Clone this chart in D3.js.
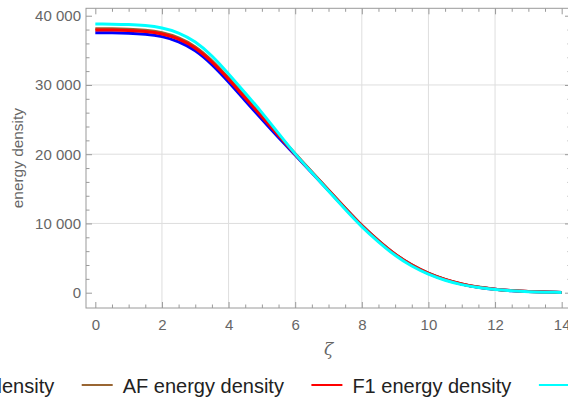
<!DOCTYPE html>
<html>
<head>
<meta charset="utf-8">
<script src="https://cdn.jsdelivr.net/npm/d3@7"></script>
<style>
  html, body { margin: 0; padding: 0; background: #fff; overflow: hidden; }
  svg { display: block; }
  .ticklab { font-family: 'Liberation Sans', Arial, sans-serif; font-size: 15px; fill: #666; }
</style>
</head>
<body>
<svg id="chart" width="568" height="400"></svg>
<script>
// ---- data ----
const zeta = [0,0.5,1,1.5,2,2.5,3,3.5,4,4.5,5,5.5,6,6.5,7,7.5,8,8.5,9,9.5,10,10.5,11,11.5,12,12.5,13,13.5,14];
const blueVals  = [37550,37530,37470,37320,36980,36230,34930,32930,30430,27730,25030,22400,19880,17330,14770,12180,9680,7480,5530,3990,2790,1890,1240,795,495,298,168,88,40];
const brownVals = [38130,38110,38050,37900,37550,36800,35500,33500,31000,28300,25560,22800,20050,17420,14820,12220,9720,7520,5570,4020,2820,1920,1260,810,510,305,175,90,40];
const redVals   = [37940,37920,37860,37710,37360,36610,35310,33310,30810,28110,25410,22700,20000,17400,14800,12200,9700,7500,5550,4000,2800,1900,1250,800,500,300,170,90,40];
const cyanVals  = [38800,38780,38720,38570,38230,37500,36200,34180,31600,28850,26000,23000,20050,17350,14700,12050,9550,7350,5400,3850,2680,1800,1170,740,450,270,150,80,30];
const seriesNames = ["F2 energy density","AF energy density","F1 energy density","F3 energy density"];
const seriesColors = ["#0000ff","#996633","#ff0000","#00ffff"];
const xTickVals = [0,2,4,6,8,10,12,14];
const yTickVals = [0,10000,20000,30000,40000];
const xGridVals = [2,4,6,8,10,12];
const yGridVals = [10000,20000,30000];
const xLabel = "ζ";
const yLabel = "energy density";

const allSeries = [blueVals, brownVals, redVals, cyanVals];

// ---- layout ----
const svg = d3.select("#chart");
const pL = 86, pR = 571, pT = 8.3, pB = 308;
const x = d3.scaleLinear().domain([-0.28, 14.28]).range([pL, pR]);
const y = d3.scaleLinear().domain([-2210, 41070]).range([pB, pT]);

const frameColor = "#9a9a9a";
const tickTextColor = "#666";
const gridColor = "#dedede";

const fmt = d3.formatLocale({decimal: ".", thousands: " ", grouping: [3], currency: ["", ""]}).format(",d");

// grid
svg.append("g").selectAll("line").data(xGridVals).join("line")
  .attr("x1", d => x(d)).attr("x2", d => x(d))
  .attr("y1", pT).attr("y2", pB)
  .attr("stroke", gridColor).attr("stroke-width", 1);
svg.append("g").selectAll("line").data(yGridVals).join("line")
  .attr("x1", pL).attr("x2", pR)
  .attr("y1", d => y(d)).attr("y2", d => y(d))
  .attr("stroke", gridColor).attr("stroke-width", 1);

// curves
const line = d3.line().x((d, i) => x(zeta[i])).y(d => y(d)).curve(d3.curveNatural);
svg.append("g").selectAll("path").data(allSeries).join("path")
  .attr("d", d => line(d))
  .attr("fill", "none")
  .attr("stroke", (d, i) => seriesColors[i])
  .attr("stroke-width", 3)
  .attr("stroke-linejoin", "round");

// frame
svg.append("rect").attr("x", pL).attr("y", pT)
  .attr("width", pR - pL).attr("height", pB - pT)
  .attr("fill", "none").attr("stroke", frameColor).attr("stroke-width", 1);

// ticks using d3 axes (inward)
const xMinor = d3.range(0, 14.01, 0.5).filter(v => !xTickVals.includes(v));
const yMinor = d3.range(0, 40001, 2000).filter(v => !yTickVals.includes(v));

function styleAxis(g) {
  g.attr("font-size", null).attr("font-family", null);
  g.select(".domain").remove();
  g.selectAll(".tick line").attr("stroke", frameColor);
  g.selectAll(".tick text").attr("fill", null).attr("class", "ticklab");
}

// bottom
svg.append("g").attr("transform", `translate(0,${pB})`)
  .call(d3.axisBottom(x).tickValues(xTickVals).tickSize(-6).tickPadding(11).tickFormat(d => String(d)))
  .call(styleAxis);
svg.append("g").attr("transform", `translate(0,${pB})`)
  .call(d3.axisBottom(x).tickValues(xMinor).tickSize(-3.5).tickFormat(""))
  .call(styleAxis);
// top
svg.append("g").attr("transform", `translate(0,${pT})`)
  .call(d3.axisTop(x).tickValues(xTickVals).tickSize(-6).tickFormat(""))
  .call(styleAxis);
svg.append("g").attr("transform", `translate(0,${pT})`)
  .call(d3.axisTop(x).tickValues(xMinor).tickSize(-3.5).tickFormat(""))
  .call(styleAxis);
// left
svg.append("g").attr("transform", `translate(${pL},0)`)
  .call(d3.axisLeft(y).tickValues(yTickVals).tickSize(-6).tickPadding(5).tickFormat(d => fmt(d)))
  .call(styleAxis);
svg.append("g").attr("transform", `translate(${pL},0)`)
  .call(d3.axisLeft(y).tickValues(yMinor).tickSize(-3.5).tickFormat(""))
  .call(styleAxis);
// right
svg.append("g").attr("transform", `translate(${pR},0)`)
  .call(d3.axisRight(y).tickValues(yTickVals).tickSize(-6).tickFormat(""))
  .call(styleAxis);
svg.append("g").attr("transform", `translate(${pR},0)`)
  .call(d3.axisRight(y).tickValues(yMinor).tickSize(-3.5).tickFormat(""))
  .call(styleAxis);

// axis labels
svg.append("text").attr("x", (pL + pR) / 2).attr("y", 355)
  .attr("text-anchor", "middle").attr("fill", tickTextColor)
  .attr("font-family", "'DejaVu Serif', 'Liberation Serif', serif").attr("font-style", "italic")
  .attr("font-size", 17).text(xLabel);
svg.append("text")
  .attr("transform", `translate(23,${(pT + pB) / 2}) rotate(-90)`)
  .attr("text-anchor", "middle").attr("fill", tickTextColor)
  .attr("font-family", "'Liberation Sans', Arial, sans-serif").attr("font-size", 15.4)
  .text(yLabel);

// legend: row of items, positioned so the AF item line begins at 81.7
const legend = svg.append("g").attr("font-family", "'Liberation Sans', Arial, sans-serif").attr("font-size", 20);
const lineLen = 31, lineGap = 10, itemGap = 27.5, legendY = 385, textBase = 392.5;
const widths = seriesNames.map(n => {
  const t = legend.append("text").text(n);
  const w = t.node().getComputedTextLength();
  t.remove();
  return w;
});
const starts = [];
starts[1] = 81.7;
starts[0] = starts[1] - itemGap - widths[0] - lineGap - lineLen;
for (let i = 2; i < seriesNames.length; i++) starts[i] = starts[i - 1] + lineLen + lineGap + widths[i - 1] + itemGap;
seriesNames.forEach((n, i) => {
  legend.append("line").attr("x1", starts[i]).attr("x2", starts[i] + lineLen)
    .attr("y1", legendY).attr("y2", legendY)
    .attr("stroke", seriesColors[i]).attr("stroke-width", 2);
  legend.append("text").attr("x", starts[i] + lineLen + lineGap).attr("y", textBase)
    .attr("fill", "#222").text(n);
});
</script>
</body>
</html>
